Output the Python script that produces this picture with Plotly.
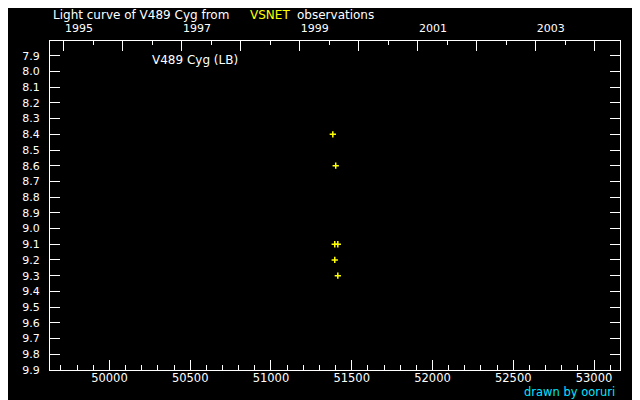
import plotly.graph_objects as go

# observations (MJD, visual magnitude)
obs_mjd = [51383, 51401, 51395, 51414, 51395, 51414]
obs_mag = [8.4, 8.6, 9.1, 9.1, 9.2, 9.3]

# bottom axis (MJD)
mjd_ticks = [50000, 50500, 51000, 51500, 52000, 52500, 53000]
mjd_labels = ["50000", "50500", "51000", "51500", "52000", "52500", "53000"]

# top axis (calendar years, Jan 1 in MJD)
year_mjd = [49718, 50083, 50449, 50814, 51179, 51544, 51910, 52275, 52640, 53005]
year_labels = ["1995", "", "1997", "", "1999", "", "2001", "", "2003", ""]
halfyear_mjd = [49900, 50265, 50630, 50995, 51361, 51726, 52091, 52456, 52822]

# magnitude axis
mag_ticks = [7.9, 8.0, 8.1, 8.2, 8.3, 8.4, 8.5, 8.6, 8.7, 8.8, 8.9,
             9.0, 9.1, 9.2, 9.3, 9.4, 9.5, 9.6, 9.7, 9.8, 9.9]
mag_labels = ["%.1f" % v for v in mag_ticks]

x_range = [49632, 53161]
y_range = [9.9005, 7.806]

FONT = "DejaVu Sans"

fig = go.Figure()
fig.add_trace(go.Scatter(
    x=obs_mjd, y=obs_mag, mode="markers",
    marker=dict(symbol="cross-thin", size=4.5, color="#ffff00",
                line=dict(color="#ffff00", width=1.5)),
    showlegend=False, hoverinfo="skip"))
# invisible trace for the top axis
fig.add_trace(go.Scatter(x=x_range, y=[9.0, 9.0], xaxis="x2", mode="markers",
                         marker=dict(opacity=0), showlegend=False, hoverinfo="skip"))

# the page body adds an 8 px offset, so the figure is 8 px smaller
fig.update_layout(
    width=632, height=392,
    margin=dict(l=42, r=20, t=33, b=30),
    paper_bgcolor="black", plot_bgcolor="black",
    font=dict(family=FONT, size=11, color="white"),
    xaxis=dict(range=x_range, showgrid=False, zeroline=False, automargin=False,
               showline=True, linecolor="white", linewidth=1,
               ticks="inside", ticklen=10, tickcolor="white", tickwidth=1,
               tickmode="array", tickvals=mjd_ticks, ticktext=mjd_labels,
               minor=dict(dtick=100, tick0=49700, ticks="inside", ticklen=5,
                          tickcolor="white", tickwidth=1, showgrid=False),
               tickfont=dict(size=11.5, color="white"), ticklabelstandoff=-3),
    xaxis2=dict(range=x_range, overlaying="x", side="top", anchor="y", automargin=False,
                showgrid=False, zeroline=False,
                showline=True, linecolor="white", linewidth=1,
                ticks="inside", ticklen=10, tickcolor="white", tickwidth=1,
                tickmode="array", tickvals=year_mjd, ticktext=year_labels,
                ticklabelposition="outside right",
                minor=dict(tickmode="array", tickvals=halfyear_mjd, ticks="inside",
                           ticklen=4, tickcolor="white", tickwidth=1, showgrid=False),
                tickfont=dict(size=11, color="white"), ticklabelstandoff=4),
    yaxis=dict(range=y_range, showgrid=False, zeroline=False, automargin=False,
               showline=True, linecolor="white", linewidth=1, mirror="ticks",
               ticks="inside", ticklen=10, tickcolor="white", tickwidth=1,
               tickmode="array", tickvals=mag_ticks, ticktext=mag_labels,
               tickfont=dict(size=11, color="white"), ticklabelstandoff=7),
)

fig.add_annotation(text="Light curve of V489 Cyg from", xref="paper", yref="paper",
                   x=0.0012, y=1.0, yshift=26, xanchor="left", yanchor="middle",
                   showarrow=False, font=dict(size=12, color="white"))
fig.add_annotation(text="VSNET", xref="paper", yref="paper",
                   x=(248 - 50) / 570, y=1.0, yshift=26, xanchor="left", yanchor="middle",
                   showarrow=False, font=dict(size=12, color="#ffff00"))
fig.add_annotation(text="observations", xref="paper", yref="paper",
                   x=(295 - 50) / 570, y=1.0, yshift=26, xanchor="left", yanchor="middle",
                   showarrow=False, font=dict(size=12, color="white"))
fig.add_annotation(text="V489 Cyg (LB)", xref="paper", yref="paper",
                   x=(150 - 50) / 570, y=1.0, yshift=-19, xanchor="left", yanchor="middle",
                   showarrow=False, font=dict(size=12, color="white"))
fig.add_annotation(text="drawn by ooruri", xref="paper", yref="paper",
                   x=1.0, y=0.0, yshift=-22, xshift=-3, xanchor="right", yanchor="middle",
                   showarrow=False, font=dict(size=11.5, color="#00e5ff"))

fig.write_html("out.html")
